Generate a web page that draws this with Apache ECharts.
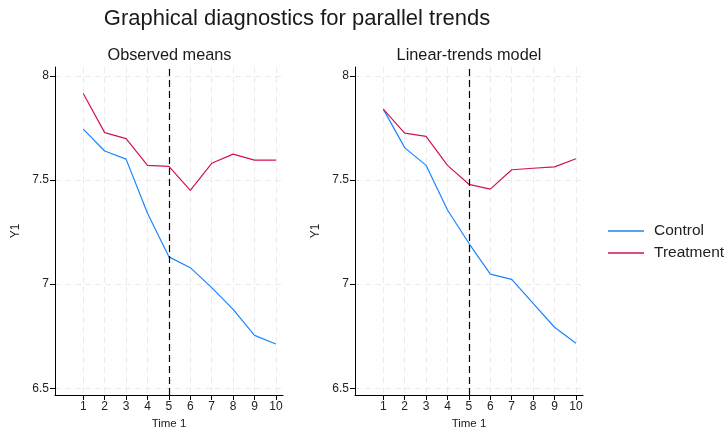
<!DOCTYPE html>
<html><head><meta charset="utf-8">
<script src="https://cdn.jsdelivr.net/npm/echarts@6/dist/echarts.min.js"></script>
<style>html,body{margin:0;padding:0;background:#fff}#c{width:728px;height:430px}</style>
</head><body><div id="c"></div>
<script>
const times = [1, 2, 3, 4, 5, 6, 7, 8, 9, 10];
const yTicks = [6.5, 7, 7.5, 8];
const obsControl = [7.744, 7.639, 7.600, 7.340, 7.131, 7.079, 6.983, 6.879, 6.754, 6.713];
const obsTreatment = [7.915, 7.727, 7.698, 7.570, 7.565, 7.450, 7.580, 7.624, 7.595, 7.595];
const linControl = [7.840, 7.655, 7.570, 7.356, 7.196, 7.048, 7.023, 6.908, 6.793, 6.716];
const linTreatment = [7.840, 7.725, 7.709, 7.570, 7.479, 7.456, 7.549, 7.556, 7.563, 7.602];
const treatTime = 5;

const FONT = 'Liberation Sans, Arial, sans-serif';
const BLUE = '#1a85ff', RED = '#d41159';
const pairs = (vals) => times.map((t, i) => [t, vals[i]]);

function xAx(gi) {
  return {
    type: 'value', gridIndex: gi, min: -0.32, max: 10.33,
    name: 'Time 1', nameLocation: 'middle', nameGap: 22,
    nameTextStyle: { fontFamily: FONT, fontSize: 11.5, color: '#222' },
    axisLine: { show: true, onZero: false, lineStyle: { color: '#000', width: 1 } },
    axisTick: { show: true, length: 5, customValues: times, lineStyle: { color: '#000' } },
    axisLabel: { customValues: times, margin: 6, fontFamily: FONT, fontSize: 12, color: '#222' },
    splitLine: { show: true, lineStyle: { color: '#ebebeb', type: [6, 4], width: 1 } }
  };
}
function yAx(gi) {
  return {
    type: 'value', gridIndex: gi, min: 6.468, max: 8.042,
    name: 'Y1', nameLocation: 'middle', nameGap: 33, nameRotate: 90,
    nameTextStyle: { fontFamily: FONT, fontSize: 12, color: '#222' },
    axisLine: { show: true, onZero: false, lineStyle: { color: '#000', width: 1 } },
    axisTick: { show: true, length: 5, customValues: yTicks, lineStyle: { color: '#000' } },
    axisLabel: { customValues: yTicks, margin: 6, fontFamily: FONT, fontSize: 12, color: '#222' },
    splitLine: { show: true, lineStyle: { color: '#ebebeb', type: [6, 4], width: 1 } }
  };
}
function ln(name, vals, gi, color, mark) {
  const s = {
    name, type: 'line', xAxisIndex: gi, yAxisIndex: gi, data: pairs(vals),
    symbol: 'none', showSymbol: false, smooth: false,
    lineStyle: { color, width: 1.2 }, itemStyle: { color },
    z: 3
  };
  if (mark) {
    s.markLine = {
      silent: true, symbol: ['none', 'none'], label: { show: false },
      lineStyle: { color: '#000', type: [7, 4], width: 1.2 },
      data: [{ xAxis: treatTime }], animation: false
    };
  }
  return s;
}

const chart = echarts.init(document.getElementById('c'), null, { renderer: 'canvas' });
chart.setOption({
  animation: false,
  backgroundColor: '#fff',
  textStyle: { fontFamily: FONT },
  grid: [
    { left: 55, top: 67, width: 228, height: 328, outerBoundsMode: 'none', containLabel: false },
    { left: 355, top: 67, width: 228, height: 328, outerBoundsMode: 'none', containLabel: false }
  ],
  xAxis: [xAx(0), xAx(1)],
  yAxis: [yAx(0), yAx(1)],
  legend: {
    orient: 'vertical', left: 603, top: 218,
    icon: 'rect', itemWidth: 36, itemHeight: 1.6, itemGap: 6,
    data: ['Control', 'Treatment'],
    textStyle: { fontFamily: FONT, fontSize: 15.5, lineHeight: 16, color: '#222', padding: [0, 0, 0, 5] }
  },
  graphic: [
    { type: 'text', x: 297, y: 19, style: { text: 'Graphical diagnostics for parallel trends', font: '22px ' + FONT, fill: '#1a1a1a', align: 'center', verticalAlign: 'middle' } },
    { type: 'text', x: 169.5, y: 56, style: { text: 'Observed means', font: '16.3px ' + FONT, fill: '#1a1a1a', align: 'center', verticalAlign: 'middle' } },
    { type: 'text', x: 469, y: 56, style: { text: 'Linear-trends model', font: '16.3px ' + FONT, fill: '#1a1a1a', align: 'center', verticalAlign: 'middle' } }
  ],
  series: [
    ln('Control', obsControl, 0, BLUE, true),
    ln('Treatment', obsTreatment, 0, RED, false),
    ln('Control', linControl, 1, BLUE, true),
    ln('Treatment', linTreatment, 1, RED, false)
  ]
});
</script></body></html>
